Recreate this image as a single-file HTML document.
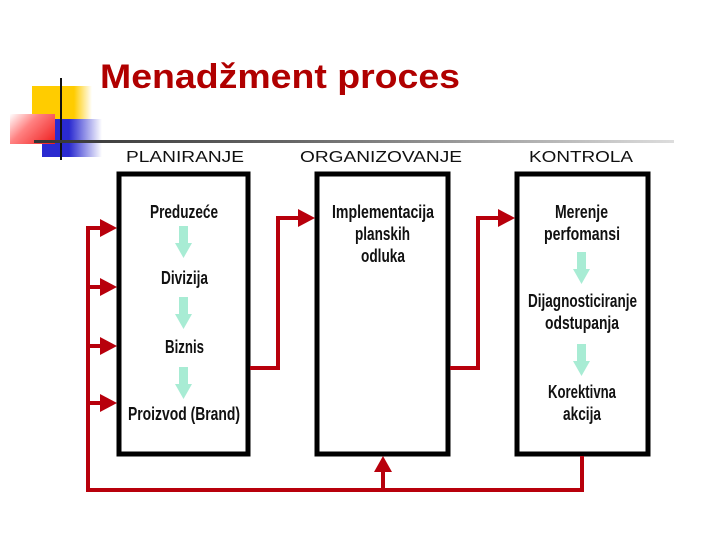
<!DOCTYPE html>
<html><head><meta charset="utf-8"><style>
body{margin:0;width:720px;height:540px;background:#fff;overflow:hidden;position:relative;font-family:"Liberation Sans",sans-serif}
.a{position:absolute}
.t{font-family:"Liberation Sans",sans-serif;font-weight:bold;font-size:18px;fill:#111}
</style></head><body>
<div class="a" style="left:32px;top:86px;width:60px;height:38px;background:linear-gradient(90deg,#ffcc00 0,#ffcc00 70%,#fff 100%)"></div>
<div class="a" style="left:42px;top:119px;width:60px;height:38px;background:linear-gradient(90deg,#2a2ad0 0,#2a2ad0 45%,#fff 100%)"></div>
<div class="a" style="left:10px;top:114px;width:45px;height:30px;background:linear-gradient(135deg,#fff 0,#ff8080 40%,#ee1c1c 100%)"></div>
<div class="a" style="left:60px;top:78px;width:2px;height:82px;background:#111"></div>
<div class="a" style="left:34px;top:140px;width:640px;height:3px;background:linear-gradient(90deg,#333 0,#666 40%,#ddd 100%)"></div>
<svg class="a" style="left:0;top:0" width="720" height="540">
<text x="100" y="88" font-family="Liberation Sans" font-weight="bold" font-size="34" fill="#b00000" textLength="360" lengthAdjust="spacingAndGlyphs">Menadžment proces</text>
<g font-family="Liberation Sans" font-size="16" fill="#111">
<text x="126" y="162" textLength="118" lengthAdjust="spacingAndGlyphs">PLANIRANJE</text>
<text x="300" y="162" textLength="162" lengthAdjust="spacingAndGlyphs">ORGANIZOVANJE</text>
<text x="529" y="162" textLength="104" lengthAdjust="spacingAndGlyphs">KONTROLA</text>
</g>
<g fill="none" stroke="#000" stroke-width="5">
<rect x="119" y="174" width="129" height="280"/><rect x="317" y="174" width="131" height="280"/><rect x="517" y="174" width="131" height="280"/>
</g>
<g fill="none" stroke="#b8000c" stroke-width="4">
<polyline points="582,456 582,490 88,490 88,228 102,228"/>
<line x1="88" y1="287" x2="102" y2="287"/><line x1="88" y1="346" x2="102" y2="346"/><line x1="88" y1="403" x2="102" y2="403"/>
<polyline points="250,368 278,368 278,218 300,218"/>
<polyline points="450,368 478,368 478,218 500,218"/>
<line x1="383" y1="490" x2="383" y2="470"/>
</g>
<g fill="#b8000c">
<polygon points="117,228 100,219 100,237"/><polygon points="117,287 100,278 100,296"/><polygon points="117,346 100,337 100,355"/><polygon points="117,403 100,394 100,412"/>
<polygon points="315,218 298,209 298,227"/><polygon points="515,218 498,209 498,227"/>
<polygon points="383,456 374,472 392,472"/>
</g>
<g fill="#a8ecd4">
<g id="ar"><rect x="179" y="226" width="9" height="18"/><polygon points="175,243 192,243 183.5,258"/></g>
<use href="#ar" transform="translate(0,71)"/><use href="#ar" transform="translate(0,141)"/>
<use href="#ar" transform="translate(398,26)"/><use href="#ar" transform="translate(398,118)"/>
</g>
<g class="t">
<text class="t" x="150" y="218" textLength="68" lengthAdjust="spacingAndGlyphs">Preduzeće</text>
<text class="t" x="161" y="284" textLength="47" lengthAdjust="spacingAndGlyphs">Divizija</text>
<text class="t" x="165" y="353" textLength="39" lengthAdjust="spacingAndGlyphs">Biznis</text>
<text class="t" x="128" y="420" textLength="112" lengthAdjust="spacingAndGlyphs">Proizvod (Brand)</text>
<text class="t" x="332" y="218" textLength="102" lengthAdjust="spacingAndGlyphs">Implementacija</text>
<text class="t" x="355" y="240" textLength="55" lengthAdjust="spacingAndGlyphs">planskih</text>
<text class="t" x="361" y="262" textLength="44" lengthAdjust="spacingAndGlyphs">odluka</text>
<text class="t" x="555" y="218" textLength="53" lengthAdjust="spacingAndGlyphs">Merenje</text>
<text class="t" x="544" y="240" textLength="76" lengthAdjust="spacingAndGlyphs">perfomansi</text>
<text class="t" x="528" y="307" textLength="109" lengthAdjust="spacingAndGlyphs">Dijagnosticiranje</text>
<text class="t" x="545" y="329" textLength="74" lengthAdjust="spacingAndGlyphs">odstupanja</text>
<text class="t" x="548" y="398" textLength="68" lengthAdjust="spacingAndGlyphs">Korektivna</text>
<text class="t" x="563" y="420" textLength="38" lengthAdjust="spacingAndGlyphs">akcija</text>
</g>
</svg>
</body></html>
